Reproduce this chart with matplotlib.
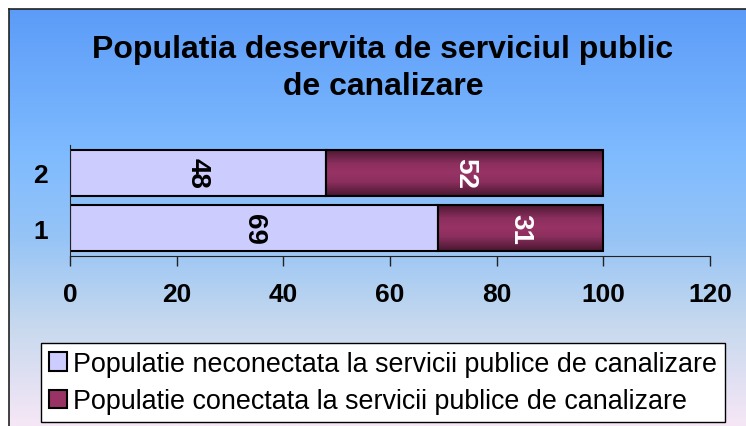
import numpy as np
import matplotlib.pyplot as plt
from matplotlib.colors import LinearSegmentedColormap
from matplotlib.patches import Patch

plt.rcParams['font.family'] = ['Liberation Sans', 'DejaVu Sans']

categories = ['1', '2']
neconectata = [69, 48]
conectata = [31, 52]
series_names = ['Populatie neconectata la servicii publice de canalizare',
                'Populatie conectata la servicii publice de canalizare']
title = 'Populatia deservita de serviciul public\nde canalizare'
xticks = [0, 20, 40, 60, 80, 100, 120]

W, H = 746, 427
fig = plt.figure(figsize=(W / 100, H / 100), dpi=100)

# background gradient with frame (frame runs past right and bottom edges)
bg = fig.add_axes([9 / W, 0, 1 - 9 / W, 1 - 10 / H], zorder=0)
bg_cmap = LinearSegmentedColormap.from_list(
    'bg', [(0, '#5c9cf8'), (0.35, '#7fbbff'), (0.55, '#96c4f6'),
           (0.75, '#c5d8ee'), (1, '#f6e7f6')])
bg.imshow(np.linspace(0, 1, 256).reshape(-1, 1), aspect='auto', cmap=bg_cmap,
          extent=[0, 1, 1, 0])
bg.set_xticks([])
bg.set_yticks([])
for side, s in bg.spines.items():
    s.set_color('#222222')
    s.set_linewidth(1.2)
    if side in ('right', 'bottom'):
        s.set_visible(False)

ax = fig.add_axes([70 / W, 1 - 257 / H, 640 / W, 111 / H], zorder=1)
ax.patch.set_alpha(0)

y = np.arange(1, len(categories) + 1)
h = 0.83
b1 = ax.barh(y, neconectata, height=h, color='#ccccff', edgecolor='black', linewidth=1.5)
b2 = ax.barh(y, conectata, left=neconectata, height=h, color='#993366',
             edgecolor='black', linewidth=1.5)

# vertical shading on the dark bars
bar_cmap = LinearSegmentedColormap.from_list(
    'bar', [(0, '#4a1630'), (0.3, '#8a2f5e'), (0.5, '#993366'), (0.7, '#8a2f5e'), (1, '#4a1630')])
grad = np.linspace(0, 1, 100).reshape(-1, 1)
for rect in b2:
    x0, y0 = rect.get_x(), rect.get_y()
    im = ax.imshow(grad, aspect='auto', cmap=bar_cmap, zorder=rect.get_zorder(),
                   extent=[x0, x0 + rect.get_width(), y0, y0 + rect.get_height()])
    im.set_clip_path(rect)
    rect.set_facecolor('none')
    rect.set_zorder(rect.get_zorder() + 0.1)

for i in range(len(categories)):
    ax.text(neconectata[i] / 2, y[i], str(neconectata[i]), rotation=-90,
            ha='center', va='center', fontsize=20, fontweight='bold', color='black', zorder=5)
    ax.text(neconectata[i] + conectata[i] / 2, y[i], str(conectata[i]), rotation=-90,
            ha='center', va='center', fontsize=20, fontweight='bold', color='white', zorder=5)

ax.set_xlim(0, 120)
ax.set_ylim(0.5, 2.5)
ax.set_xticks(xticks)
ax.set_xticklabels([str(t) for t in xticks], fontsize=19, fontweight='bold')
ax.set_yticks(y)
ax.set_yticklabels(categories, fontsize=19, fontweight='bold')
ax.tick_params(axis='x', length=7, width=1, pad=12, color='#222222')
ax.tick_params(axis='y', length=0, pad=16)
ax.spines['top'].set_visible(False)
ax.spines['right'].set_visible(False)
ax.spines['left'].set_color('#222222')
ax.spines['bottom'].set_color('#222222')

fig.text(383 / W, 1 - 68.5 / H, title, ha='center', va='center', fontsize=23,
         fontweight='bold', linespacing=1.31)

handles = [Patch(facecolor='#ccccff', edgecolor='black', linewidth=1.5),
           Patch(facecolor='#993366', edgecolor='black', linewidth=1.5)]
leg = fig.legend(handles, series_names, loc='upper left',
                 bbox_to_anchor=(41 / W, 1 - 344 / H), fontsize=19.4,
                 frameon=True, fancybox=False, edgecolor='black', framealpha=1,
                 handlelength=0.67, handleheight=0.67, handletextpad=0.22,
                 borderpad=0.3, labelspacing=0.42, borderaxespad=0)
leg.get_frame().set_linewidth(1)

fig.savefig('out.png', dpi=100)
